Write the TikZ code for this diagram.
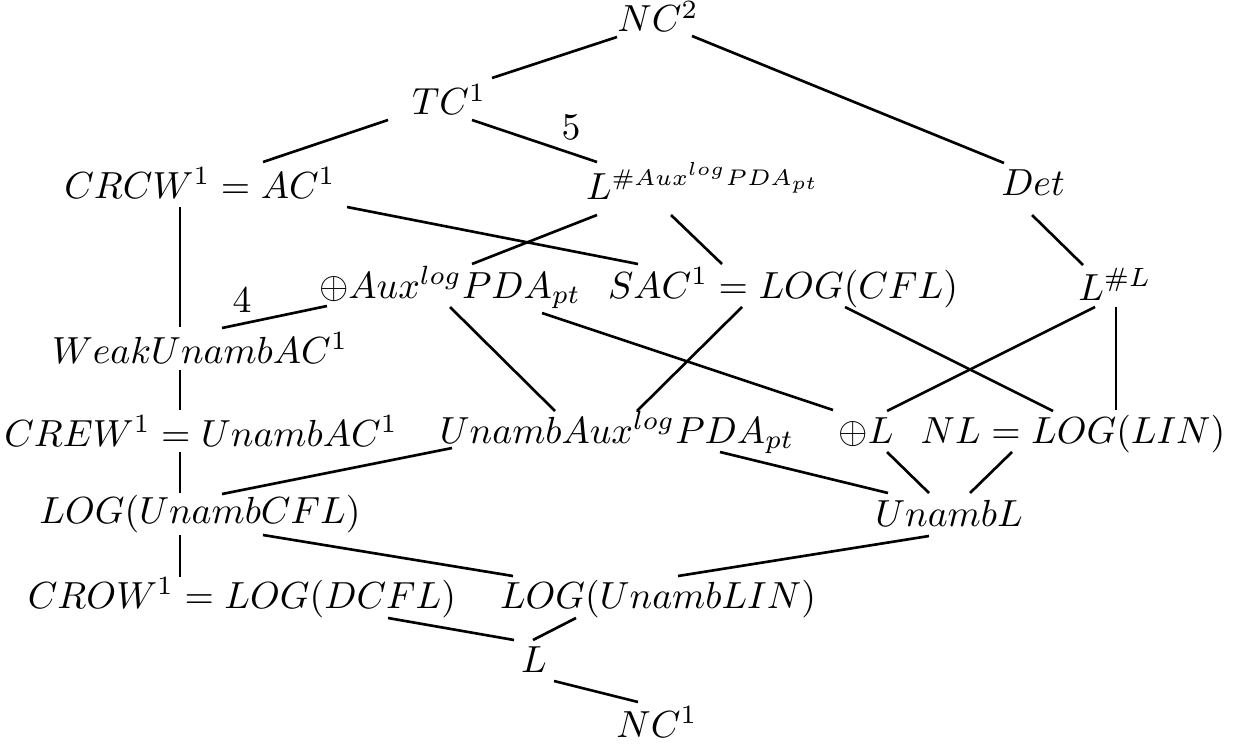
\documentclass[tikz,border=0pt]{standalone}
\begin{document}
\begin{tikzpicture}[x=0.265pt,y=-0.265pt,
  cls/.style={anchor=base,inner sep=0pt,outer sep=0pt},
  link/.style={line width=0.7pt}]
\useasboundingbox (0,0) rectangle (1235,746);

% complexity classes
\node[cls] (nc2)   at (658,32)  {$NC^2$};
\node[cls] (tc1)   at (449,115) {$TC^1$};
\node[cls] (crcw)  at (200,198) {$CRCW^1 = AC^1$};
\node[cls] (lsaux) at (703,199) {$L^{\hbox{\fontsize{6}{7}\selectfont$\#Aux^{log}PDA_{pt}$}}$};
\node[cls] (det)   at (1033,196) {$Det$};
\node[cls] (paux)  at (450,298) {$\oplus Aux^{log}PDA_{pt}$};
\node[cls] (sac)   at (783,298) {$SAC^1 = LOG(CFL)$};
\node[cls] (lsl)   at (1115,300) {$L^{\#L}$};
\node[cls] (weak)  at (200,363) {$WeakUnambAC^1$};
\node[cls] (crew)  at (201,446) {$CREW^1 = UnambAC^1$};
\node[cls] (uaux)  at (617,443) {$UnambAux^{log}PDA_{pt}$};
\node[cls] (pl)    at (866,443) {$\oplus L$};
\node[cls] (nl)    at (1073,443) {$NL = LOG(LIN)$};
\node[cls] (ucfl)  at (200,523) {$LOG(UnambCFL)$};
\node[cls] (ul)    at (949,526) {$UnambL$};
\node[cls] (crow)  at (242,608) {$CROW^1 = LOG(DCFL)$};
\node[cls] (ulin)  at (658,608) {$LOG(UnambLIN)$};
\node[cls] (l)     at (534,672) {$L$};
\node[cls] (nc1)   at (657,737) {$NC^1$};

% edge labels
\node[cls] (five) at (571,140) {$5$};
\node[cls] (four) at (242,312) {$4$};

% connector ends
\coordinate (a1) at (617,37);   \coordinate (b1) at (492,78);
\coordinate (a2) at (692,36);   \coordinate (b2) at (1004,163);
\coordinate (a3) at (388,120);  \coordinate (b3) at (263,162);
\coordinate (a4) at (472,120);  \coordinate (b4) at (597,162);
\coordinate (a5) at (347,207);  \coordinate (b5) at (638,264);
\coordinate (a6) at (597,215);  \coordinate (b6) at (472,264);
\coordinate (a7) at (671,215);  \coordinate (b7) at (722,264);
\coordinate (a8) at (1032,215); \coordinate (b8) at (1083,265);
\coordinate (a9) at (180,207);  \coordinate (b9) at (180,327);
\coordinate (a10) at (327,306); \coordinate (b10) at (222,328);
\coordinate (a11) at (450,307); \coordinate (b11) at (555,411);
\coordinate (a12) at (542,313); \coordinate (b12) at (833,410);
\coordinate (a13) at (742,307); \coordinate (b13) at (637,411);
\coordinate (a14) at (845,307); \coordinate (b14) at (1053,411);
\coordinate (a15) at (1095,307); \coordinate (b15) at (887,411);
\coordinate (a16) at (1116,307); \coordinate (b16) at (1116,410);
\coordinate (a17) at (180,370); \coordinate (b17) at (180,410);
\coordinate (a18) at (180,452); \coordinate (b18) at (180,493);
\coordinate (a19) at (452,448); \coordinate (b19) at (222,494);
\coordinate (a20) at (720,452); \coordinate (b20) at (888,493);
\coordinate (a21) at (887,452); \coordinate (b21) at (929,493);
\coordinate (a22) at (1012,452); \coordinate (b22) at (970,493);
\coordinate (a23) at (180,535); \coordinate (b23) at (180,577);
\coordinate (a24) at (263,535); \coordinate (b24) at (513,576);
\coordinate (a25) at (929,536); \coordinate (b25) at (678,576);
\coordinate (a26) at (388,618); \coordinate (b26) at (514,640);
\coordinate (a27) at (576,618); \coordinate (b27) at (533,640);
\coordinate (a28) at (554,681); \coordinate (b28) at (638,702);

% inclusions
\foreach \i in {1,...,28} \draw[link] (a\i) -- (b\i);
\end{tikzpicture}
\end{document}
